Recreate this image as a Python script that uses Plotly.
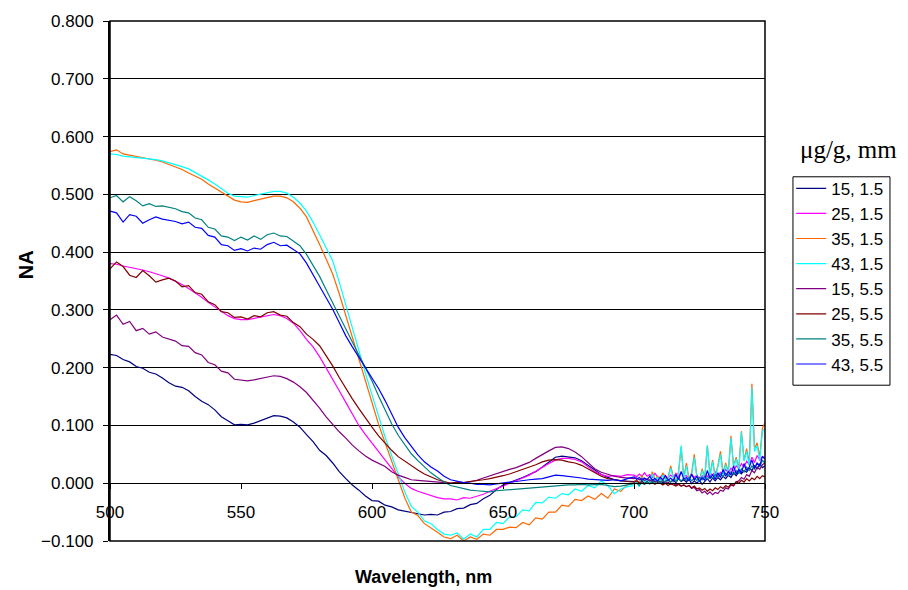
import plotly.graph_objects as go

# Wavelength grid (nm): 2.5 nm steps to 697.5, then 1 nm steps to 750
wavelength = [
    500.0, 502.5, 505.0, 507.5, 510.0, 512.5, 515.0, 517.5, 520.0, 522.5,
    525.0, 527.5, 530.0, 532.5, 535.0, 537.5, 540.0, 542.5, 545.0, 547.5,
    550.0, 552.5, 555.0, 557.5, 560.0, 562.5, 565.0, 567.5, 570.0, 572.5,
    575.0, 577.5, 580.0, 582.5, 585.0, 587.5, 590.0, 592.5, 595.0, 597.5,
    600.0, 602.5, 605.0, 607.5, 610.0, 612.5, 615.0, 617.5, 620.0, 622.5,
    625.0, 627.5, 630.0, 632.5, 635.0, 637.5, 640.0, 642.5, 645.0, 647.5,
    650.0, 652.5, 655.0, 657.5, 660.0, 662.5, 665.0, 667.5, 670.0, 672.5,
    675.0, 677.5, 680.0, 682.5, 685.0, 687.5, 690.0, 692.5, 695.0, 697.5,
    700, 701, 702, 703, 704, 705, 706, 707, 708, 709,
    710, 711, 712, 713, 714, 715, 716, 717, 718, 719,
    720, 721, 722, 723, 724, 725, 726, 727, 728, 729,
    730, 731, 732, 733, 734, 735, 736, 737, 738, 739,
    740, 741, 742, 743, 744, 745, 746, 747, 748, 749,
    750,
]

# NA spectra, one list per sample (concentration ug/g, thickness mm)
na_15_15 = [
    0.223, 0.221, 0.214, 0.210, 0.202, 0.199, 0.192, 0.189, 0.182, 0.174,
    0.168, 0.166, 0.160, 0.150, 0.142, 0.136, 0.127, 0.115, 0.108, 0.101,
    0.102, 0.101, 0.104, 0.108, 0.112, 0.117, 0.116, 0.113, 0.106, 0.097,
    0.084, 0.072, 0.057, 0.048, 0.035, 0.020, 0.008, -0.003, -0.012, -0.022,
    -0.030, -0.031, -0.038, -0.041, -0.046, -0.048, -0.051, -0.053, -0.055, -0.054,
    -0.055, -0.050, -0.049, -0.044, -0.043, -0.037, -0.035, -0.027, -0.021, -0.011,
    -0.003, 0.001, 0.005, 0.010, 0.015, 0.020, 0.028, 0.037, 0.045, 0.047,
    0.045, 0.044, 0.039, 0.031, 0.022, 0.015, 0.010, 0.006, 0.004, 0.004,
    0.003, 0.005, 0.001, 0.004, 0.000, 0.003, 0.006, 0.001, 0.004, 0.002,
    0.005, 0.000, 0.004, 0.007, 0.002, 0.005, 0.001, 0.008, 0.003, 0.006,
    0.002, 0.007, -0.001, 0.004, 0.000, 0.005, -0.002, 0.003, 0.008, 0.002,
    0.009, 0.004, 0.010, 0.006, 0.012, 0.008, 0.014, 0.010, 0.018, 0.013,
    0.020, 0.016, 0.022, 0.019, 0.026, 0.022, 0.030, 0.025, 0.033, 0.027,
    0.030,
]
na_25_15 = [
    0.380, 0.379, 0.376, 0.374, 0.372, 0.369, 0.366, 0.363, 0.359, 0.355,
    0.350, 0.344, 0.337, 0.330, 0.322, 0.313, 0.305, 0.297, 0.290, 0.285,
    0.283, 0.283, 0.285, 0.287, 0.290, 0.292, 0.290, 0.285, 0.277, 0.264,
    0.249, 0.236, 0.219, 0.200, 0.180, 0.160, 0.140, 0.119, 0.100, 0.084,
    0.069, 0.054, 0.040, 0.025, 0.011, 0.000, -0.009, -0.014, -0.018, -0.022,
    -0.025, -0.027, -0.027, -0.029, -0.025, -0.026, -0.023, -0.019, -0.014, -0.010,
    -0.005, 0.000, 0.004, 0.009, 0.014, 0.021, 0.028, 0.034, 0.040, 0.043,
    0.043, 0.041, 0.037, 0.029, 0.020, 0.015, 0.012, 0.013, 0.012, 0.015,
    0.014, 0.011, 0.016, 0.012, 0.018, 0.012, 0.015, 0.010, 0.017, 0.011,
    0.010, 0.016, 0.012, 0.009, 0.014, 0.010, 0.017, 0.011, 0.020, 0.012,
    0.013, 0.009, 0.015, 0.010, 0.014, 0.008, 0.012, 0.016, 0.011, 0.018,
    0.014, 0.020, 0.013, 0.019, 0.016, 0.024, 0.018, 0.026, 0.021, 0.030,
    0.025, 0.034, 0.028, 0.038, 0.032, 0.045, 0.036, 0.048, 0.040, 0.046,
    0.045,
]
na_35_15 = [
    0.574, 0.577, 0.570, 0.568, 0.566, 0.564, 0.562, 0.559, 0.556, 0.552,
    0.548, 0.543, 0.537, 0.532, 0.526, 0.518, 0.511, 0.503, 0.496, 0.490,
    0.487, 0.486, 0.489, 0.492, 0.495, 0.497, 0.497, 0.494, 0.487, 0.476,
    0.461, 0.438, 0.413, 0.388, 0.362, 0.328, 0.290, 0.252, 0.213, 0.175,
    0.137, 0.102, 0.070, 0.037, 0.006, -0.025, -0.050, -0.056, -0.070, -0.077,
    -0.085, -0.093, -0.096, -0.090, -0.100, -0.093, -0.097, -0.088, -0.090, -0.080,
    -0.080, -0.076, -0.077, -0.068, -0.072, -0.060, -0.062, -0.050, -0.050, -0.038,
    -0.040, -0.028, -0.030, -0.022, -0.028, -0.018, -0.026, -0.010, -0.014, -0.002,
    0.000, 0.006, -0.002, 0.014, 0.004, 0.008, 0.002, 0.020, 0.006, 0.012,
    0.004, 0.018, 0.008, 0.010, 0.030, 0.012, 0.005, 0.020, 0.062, 0.010,
    0.035, 0.008, 0.018, 0.050, 0.012, 0.005, 0.025, 0.010, 0.065, 0.015,
    0.040, 0.012, 0.030, 0.055, 0.018, 0.035, 0.020, 0.082, 0.030, 0.045,
    0.025, 0.090, 0.040, 0.060, 0.035, 0.172, 0.060, 0.070, 0.045, 0.095,
    0.105,
]
na_43_15 = [
    0.570, 0.569, 0.566, 0.565, 0.563, 0.562, 0.561, 0.560, 0.558, 0.555,
    0.552, 0.548, 0.544, 0.538, 0.532, 0.525, 0.518, 0.510, 0.502, 0.497,
    0.496, 0.495, 0.498, 0.500, 0.502, 0.505, 0.505, 0.502, 0.495, 0.485,
    0.471, 0.452, 0.430, 0.408, 0.385, 0.348, 0.308, 0.268, 0.228, 0.190,
    0.153, 0.116, 0.080, 0.048, 0.017, -0.015, -0.040, -0.050, -0.065, -0.070,
    -0.080, -0.088, -0.090, -0.086, -0.097, -0.088, -0.093, -0.080, -0.080, -0.068,
    -0.070, -0.058, -0.058, -0.046, -0.048, -0.033, -0.034, -0.024, -0.026, -0.018,
    -0.020, -0.010, -0.014, -0.004, -0.008, 0.004, -0.004, -0.018, -0.010, -0.006,
    -0.004, 0.003, -0.006, 0.010, 0.002, 0.006, 0.000, 0.016, 0.004, 0.010,
    0.002, 0.014, 0.006, 0.008, 0.026, 0.010, 0.003, 0.018, 0.065, 0.008,
    0.030, 0.005, 0.015, 0.045, 0.010, 0.002, 0.022, 0.008, 0.065, 0.012,
    0.038, 0.010, 0.028, 0.050, 0.015, 0.032, 0.018, 0.078, 0.028, 0.042,
    0.022, 0.088, 0.038, 0.055, 0.030, 0.165, 0.055, 0.065, 0.040, 0.090,
    0.095,
]
na_15_55 = [
    0.283, 0.291, 0.275, 0.280, 0.264, 0.268, 0.258, 0.262, 0.253, 0.250,
    0.246, 0.238, 0.237, 0.226, 0.222, 0.209, 0.205, 0.194, 0.191, 0.180,
    0.178, 0.177, 0.179, 0.181, 0.184, 0.186, 0.185, 0.181, 0.175, 0.167,
    0.157, 0.144, 0.130, 0.115, 0.101, 0.089, 0.078, 0.066, 0.056, 0.047,
    0.040, 0.034, 0.029, 0.020, 0.014, 0.010, 0.006, 0.005, 0.004, 0.002,
    0.001, 0.000, 0.000, 0.001, 0.001, 0.003, 0.005, 0.009, 0.013, 0.017,
    0.021, 0.024, 0.027, 0.031, 0.036, 0.043, 0.050, 0.056, 0.062, 0.063,
    0.060, 0.054, 0.046, 0.035, 0.025, 0.019, 0.015, 0.012, 0.010, 0.009,
    0.008, 0.009, 0.006, 0.008, 0.005, 0.007, 0.004, 0.006, 0.003, 0.005,
    0.002, 0.004, 0.000, 0.002, -0.002, 0.000, -0.003, -0.001, -0.005, -0.003,
    -0.006, -0.004, -0.009, -0.007, -0.013, -0.011, -0.017, -0.014, -0.019, -0.015,
    -0.020, -0.016, -0.018, -0.012, -0.014, -0.008, -0.010, -0.003, -0.005, 0.002,
    0.004, 0.010, 0.007, 0.015, 0.012, 0.022, 0.018, 0.028, 0.024, 0.032,
    0.035,
]
na_25_55 = [
    0.371, 0.383, 0.375, 0.360, 0.356, 0.368, 0.359, 0.348, 0.352, 0.355,
    0.350, 0.340, 0.342, 0.330, 0.327, 0.314, 0.309, 0.297, 0.295, 0.287,
    0.288, 0.284, 0.290, 0.288, 0.295, 0.297, 0.291, 0.289, 0.278, 0.271,
    0.258, 0.249, 0.238, 0.221, 0.203, 0.183, 0.164, 0.146, 0.129, 0.112,
    0.097, 0.082, 0.069, 0.057, 0.046, 0.038, 0.031, 0.023, 0.016, 0.011,
    0.006, 0.003, 0.000, 0.002, 0.001, 0.003, 0.004, 0.006, 0.008, 0.010,
    0.013, 0.016, 0.020, 0.023, 0.027, 0.032, 0.037, 0.040, 0.041, 0.040,
    0.037, 0.035, 0.031, 0.025, 0.018, 0.012, 0.008, 0.006, 0.004, 0.003,
    0.002, 0.004, 0.000, 0.003, -0.001, 0.002, -0.001, 0.001, -0.002, 0.001,
    0.000, -0.003, 0.000, -0.004, -0.001, -0.003, -0.005, -0.002, -0.005, -0.003,
    -0.006, -0.004, -0.008, -0.005, -0.010, -0.008, -0.012, -0.009, -0.014, -0.010,
    -0.013, -0.008, -0.011, -0.006, -0.009, -0.004, -0.007, -0.001, -0.004, 0.003,
    0.000, 0.005, 0.002, 0.008, 0.004, 0.009, 0.006, 0.012, 0.008, 0.013,
    0.011,
]
na_35_55 = [
    0.494, 0.498, 0.487, 0.496, 0.489, 0.480, 0.484, 0.479, 0.480, 0.477,
    0.475, 0.470, 0.468, 0.459, 0.456, 0.443, 0.440, 0.428, 0.426, 0.420,
    0.426, 0.421, 0.428, 0.422, 0.430, 0.433, 0.428, 0.427, 0.419, 0.411,
    0.396, 0.378, 0.358, 0.335, 0.312, 0.289, 0.267, 0.245, 0.222, 0.200,
    0.177, 0.151, 0.126, 0.103, 0.083, 0.066, 0.051, 0.039, 0.028, 0.018,
    0.010, 0.002, -0.004, -0.007, -0.010, -0.012, -0.013, -0.014, -0.015, -0.013,
    -0.012, -0.011, -0.010, -0.009, -0.008, -0.007, -0.006, -0.006, -0.005, -0.004,
    -0.003, -0.003, -0.002, -0.003, -0.003, -0.002, -0.004, -0.006, -0.005, -0.003,
    -0.002, 0.000, -0.004, 0.001, -0.002, 0.002, -0.001, 0.003, 0.000, 0.004,
    0.001, 0.005, 0.002, 0.006, 0.002, 0.007, 0.003, 0.008, 0.004, 0.009,
    0.005, 0.010, 0.004, 0.009, 0.005, 0.010, 0.006, 0.012, 0.007, 0.013,
    0.009, 0.015, 0.010, 0.016, 0.012, 0.018, 0.013, 0.020, 0.015, 0.022,
    0.017, 0.025, 0.019, 0.028, 0.022, 0.030, 0.024, 0.035, 0.028, 0.040,
    0.034,
]
na_43_55 = [
    0.471, 0.468, 0.452, 0.465, 0.462, 0.450, 0.456, 0.461, 0.457, 0.455,
    0.453, 0.449, 0.452, 0.443, 0.441, 0.429, 0.426, 0.413, 0.411, 0.403,
    0.406, 0.402, 0.407, 0.405, 0.413, 0.417, 0.411, 0.412, 0.404, 0.397,
    0.381, 0.362, 0.341, 0.321, 0.301, 0.278, 0.255, 0.236, 0.218, 0.200,
    0.183, 0.164, 0.143, 0.120, 0.097, 0.079, 0.063, 0.049, 0.037, 0.028,
    0.021, 0.012, 0.006, 0.003, 0.001, 0.000, -0.002, -0.002, -0.003, -0.001,
    0.001, 0.002, 0.003, 0.005, 0.006, 0.007, 0.008, 0.011, 0.014, 0.013,
    0.012, 0.011, 0.009, 0.007, 0.006, 0.005, 0.005, 0.006, 0.004, 0.008,
    0.011, 0.007, 0.010, 0.005, 0.009, 0.006, 0.012, 0.005, 0.008, 0.004,
    0.010, 0.006, 0.013, 0.005, 0.009, 0.004, 0.015, 0.006, 0.020, 0.007,
    0.010, 0.004, 0.016, 0.006, 0.012, 0.003, 0.010, 0.005, 0.022, 0.008,
    0.015, 0.007, 0.018, 0.010, 0.024, 0.012, 0.020, 0.014, 0.030, 0.016,
    0.024, 0.018, 0.034, 0.022, 0.028, 0.040, 0.026, 0.035, 0.030, 0.046,
    0.042,
]

series_names = ["15, 1.5", "25, 1.5", "35, 1.5", "43, 1.5",
                "15, 5.5", "25, 5.5", "35, 5.5", "43, 5.5"]
series_values = [na_15_15, na_25_15, na_35_15, na_43_15,
                 na_15_55, na_25_55, na_35_55, na_43_55]
series_colors = ["#000080", "#FF00FF", "#FF6600", "#00FFFF",
                 "#800080", "#800000", "#008080", "#0000FF"]

y_ticks = [-0.1, 0.0, 0.1, 0.2, 0.3, 0.4, 0.5, 0.6, 0.7, 0.8]
x_ticks = [500, 550, 600, 650, 700, 750]

FONT = "Liberation Sans, Arial, sans-serif"

fig = go.Figure()
for name, vals, col in zip(series_names, series_values, series_colors):
    fig.add_trace(go.Scatter(
        x=wavelength, y=vals, name=name, mode="lines",
        line=dict(color=col, width=1.2), legendgroup=name,
    ))

fig.update_layout(
    width=908, height=590,
    margin=dict(l=110, r=143, t=17, b=49),
    paper_bgcolor="white", plot_bgcolor="white",
    font=dict(family=FONT, size=16, color="black"),
    showlegend=True,
    legend=dict(
        x=1.040, y=0.712, xanchor="left", yanchor="top",
        borderwidth=0, bgcolor="rgba(0,0,0,0)", traceorder="normal",
        font=dict(family=FONT, size=17), tracegroupgap=3,
        itemwidth=30,
    ),
    xaxis=dict(
        range=[500, 750], tickvals=x_ticks, ticktext=[str(v) for v in x_ticks],
        anchor="free", position=1 / 9,
        showline=True, linecolor="black", linewidth=1,
        ticks="outside", ticklen=5, tickcolor="black",
        showgrid=False, zeroline=False,
        tickfont=dict(family=FONT, size=17), ticklabelstandoff=8,
    ),
    yaxis=dict(
        range=[-0.1, 0.8], tickvals=y_ticks, tickformat=".3f",
        showline=True, linecolor="black", linewidth=2,
        ticks="outside", ticklen=5, tickcolor="black",
        showgrid=True, gridcolor="black", gridwidth=1,
        zeroline=True, zerolinecolor="black", zerolinewidth=1,
        tickfont=dict(family=FONT, size=17), ticklabelstandoff=6,
    ),
    shapes=[
        # plot-area frame
        dict(type="rect", xref="paper", yref="paper", x0=0, y0=0, x1=1, y1=1,
             line=dict(color="black", width=1.5), layer="above"),
        # legend frame
        dict(type="rect", xref="paper", yref="paper",
             x0=1.0427, y0=0.2996, x1=1.1908, y1=0.7004,
             line=dict(color="black", width=1)),
    ],
    annotations=[
        dict(text="<b>Wavelength, nm</b>", xref="paper", yref="paper",
             x=0.478, y=-0.069, xanchor="center", yanchor="middle",
             showarrow=False, font=dict(family=FONT, size=18)),
        dict(text="<b>NA</b>", xref="paper", yref="paper", textangle=-90,
             x=-0.127, y=0.532, xanchor="center", yanchor="middle",
             showarrow=False, font=dict(family=FONT, size=20)),
        dict(text="\u03bcg/g, mm", xref="paper", yref="paper",
             x=1.128, y=0.752, xanchor="center", yanchor="middle",
             showarrow=False,
             font=dict(family="Liberation Serif, Times New Roman, serif", size=25)),
    ],
)

fig.write_html("out.html")
